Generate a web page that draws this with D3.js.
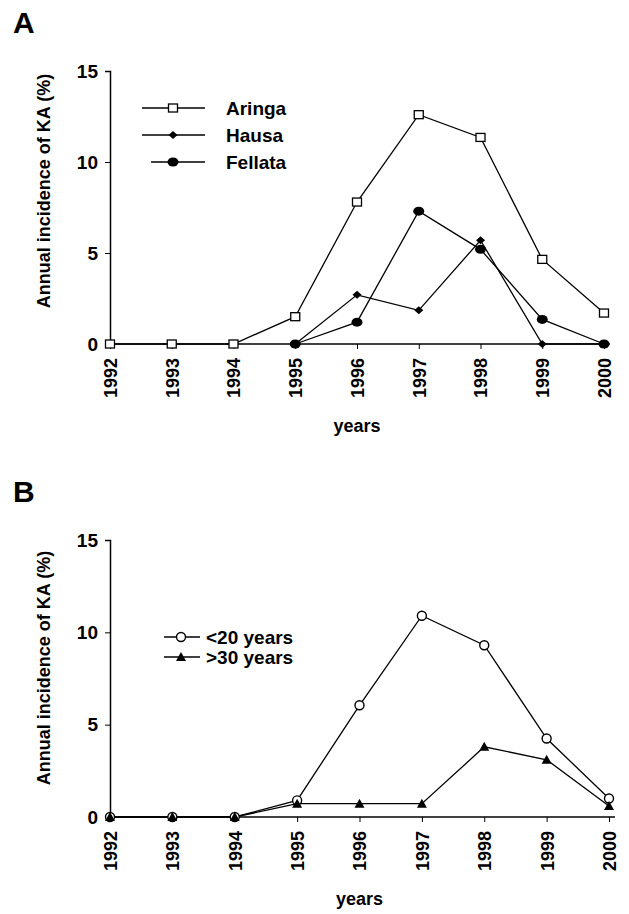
<!DOCTYPE html>
<html>
<head>
<meta charset="utf-8">
<script src="https://cdn.jsdelivr.net/npm/d3@7"></script>
<style>
  body { margin: 0; background: #fff; }
  svg { display: block; font-family: Arial, "Liberation Sans", Helvetica, sans-serif; font-weight: bold; }
</style>
</head>
<body>
<div id="chart"></div>
<script>
// data
const years = [1992, 1993, 1994, 1995, 1996, 1997, 1998, 1999, 2000];
const yTicks = [0, 5, 10, 15];

// panel A: ethnic groups
const aringa  = [0, 0, 0, 1.5, 7.8, 12.6, 11.35, 4.65, 1.7];
const hausa   = [null, null, null, 0, 2.7, 1.85, 5.7, 0, 0];
const fellata = [null, null, null, 0, 1.2, 7.3, 5.2, 1.35, 0];

// panel B: age groups
const under20 = [0, 0, 0, 0.9, 6.05, 10.9, 9.3, 4.25, 1.0];
const over30  = [0, 0, 0, 0.72, 0.72, 0.72, 3.8, 3.1, 0.6];

const width = 629, height = 914;

const svg = d3.select("#chart").append("svg")
    .attr("width", width)
    .attr("height", height);

// marker drawing helpers
const markers = {
    square: (g, x, y) => g.append("rect")
        .attr("x", x - 4.5).attr("y", y - 4).attr("width", 9).attr("height", 8)
        .attr("fill", "#fff").attr("stroke", "#000").attr("stroke-width", 1.3),
    diamond: (g, x, y) => g.append("path")
        .attr("d", `M${x - 4.5},${y}L${x},${y - 4}L${x + 4.5},${y}L${x},${y + 4}Z`)
        .attr("fill", "#000"),
    dot: (g, x, y) => g.append("ellipse")
        .attr("cx", x).attr("cy", y).attr("rx", 5.5).attr("ry", 4.5)
        .attr("fill", "#000"),
    circle: (g, x, y) => g.append("circle")
        .attr("cx", x).attr("cy", y).attr("r", 4.5)
        .attr("fill", "#fff").attr("stroke", "#000").attr("stroke-width", 1.4),
    triangle: (g, x, y) => g.append("path")
        .attr("d", `M${x - 5},${y + 4}L${x},${y - 5}L${x + 5},${y + 4}Z`)
        .attr("fill", "#000")
};

function drawPanel(opt) {
    const x = d3.scalePoint().domain(years).range([opt.left, opt.right]);
    const y = d3.scaleLinear().domain([0, 15]).range([opt.bottom, opt.top]);
    const g = svg.append("g");

    // panel letter
    g.append("text")
        .attr("x", 13).attr("y", opt.top - 38)
        .attr("font-size", 30)
        .text(opt.letter);

    // y axis
    const yAxis = g.append("g")
        .attr("transform", `translate(${opt.left},0)`)
        .call(d3.axisLeft(y).tickValues(yTicks).tickSize(5).tickPadding(7));
    yAxis.select(".domain").attr("stroke-width", 1.5);
    yAxis.selectAll(".tick line").attr("stroke-width", 1);
    yAxis.selectAll("text").attr("font-size", 19).attr("font-family", null).attr("fill", "#000");

    // x axis
    const xAxis = g.append("g")
        .attr("transform", `translate(0,${opt.bottom})`)
        .call(d3.axisBottom(x).tickSize(5).tickPadding(0));
    xAxis.select(".domain")
        .attr("d", `M${opt.left},0H${opt.right + 6}`)
        .attr("stroke-width", 1.5);
    xAxis.selectAll(".tick line").attr("stroke-width", 1);
    xAxis.selectAll("text")
        .attr("font-size", 18).attr("font-family", null).attr("fill", "#000")
        .attr("text-anchor", "end")
        .attr("transform", "rotate(-90)")
        .attr("x", -14).attr("y", 0).attr("dy", "0.36em");

    // axis titles
    g.append("text")
        .attr("transform", `translate(50,${opt.titleY}) rotate(-90)`)
        .attr("text-anchor", "middle")
        .attr("font-size", 18)
        .text("Annual incidence of KA (%)");
    g.append("text")
        .attr("x", (opt.left + opt.right) / 2)
        .attr("y", opt.bottom + 88)
        .attr("text-anchor", "middle")
        .attr("font-size", 18)
        .text("years");

    const line = d3.line()
        .defined(d => d != null)
        .x((d, i) => x(years[i]))
        .y(d => y(d));

    // lines first, then markers
    opt.series.forEach(s => {
        g.append("path")
            .attr("d", line(s.values))
            .attr("fill", "none")
            .attr("stroke", "#000")
            .attr("stroke-width", 1.3);
    });
    opt.series.forEach(s => {
        s.values.forEach((v, i) => {
            if (v != null) markers[s.marker](g, x(years[i]), y(v));
        });
    });

    // legend
    opt.series.forEach((s, i) => {
        const ly = opt.legend.y + i * opt.legend.step;
        g.append("line")
            .attr("x1", s.legendX1 ?? opt.legend.x1).attr("x2", opt.legend.x2)
            .attr("y1", ly).attr("y2", ly)
            .attr("stroke", "#000").attr("stroke-width", 1.3);
        markers[s.marker](g, opt.legend.mx, ly);
        g.append("text")
            .attr("x", opt.legend.tx).attr("y", ly)
            .attr("dy", "0.36em")
            .attr("font-size", opt.legend.fontSize)
            .text(s.name);
    });
}

drawPanel({
    letter: "A",
    left: 110, right: 604, top: 71, bottom: 344, titleY: 191,
    series: [
        { name: "Aringa", values: aringa, marker: "square" },
        { name: "Hausa", values: hausa, marker: "diamond" },
        { name: "Fellata", values: fellata, marker: "dot", legendX1: 151 }
    ],
    legend: { x1: 142, x2: 205, mx: 173, tx: 226, y: 108, step: 27, fontSize: 19 }
});

drawPanel({
    letter: "B",
    left: 110, right: 609, top: 540, bottom: 817, titleY: 668,
    series: [
        { name: "<20 years", values: under20, marker: "circle" },
        { name: ">30 years", values: over30, marker: "triangle" }
    ],
    legend: { x1: 164, x2: 200, mx: 181, tx: 206, y: 637, step: 20, fontSize: 19 }
});
</script>
</body>
</html>
